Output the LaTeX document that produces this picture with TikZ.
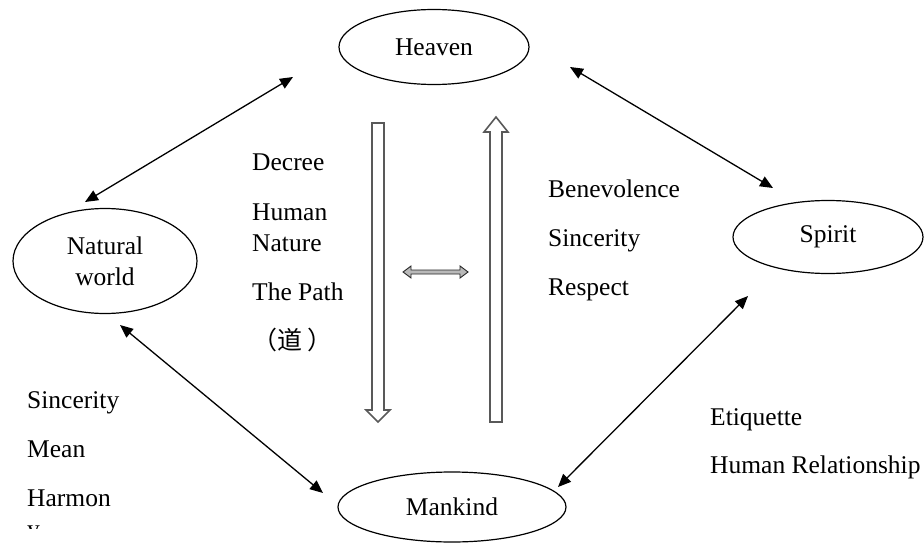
\documentclass[tikz,border=0pt]{standalone}
\usepackage{fontspec}
\setmainfont{Liberation Serif}
\newfontfamily\cjk{Noto Sans CJK SC}
\usetikzlibrary{arrows.meta,shapes.geometric}
\begin{document}
\begin{tikzpicture}[x=1pt,y=-1pt,
  ell/.style={draw, ellipse, line width=1.2pt, inner sep=0pt, font=\fontsize{25.5}{31}\selectfont, align=center},
  lbl/.style={anchor=base west, inner sep=0pt, font=\fontsize{25.5}{31}\selectfont, align=left},
  link/.style={line width=1.3pt, {Triangle[length=13pt,width=11pt]}-{Triangle[length=13pt,width=11pt]}},
  blk/.style={draw=gray!70!black, line width=1.6pt, fill=white, line join=miter},
  thin/.style={draw=gray!30!black, line width=0.9pt, fill=gray!55}]
\useasboundingbox (0,0) rectangle (924,543);
\clip (0,0) rectangle (924,543);

% ellipses
\node[ell, minimum width=190pt, minimum height=75pt] (heaven) at (434,47) {Heaven};
\node[ell, minimum width=190pt, minimum height=73pt] (spirit) at (828,237) {Spirit};
\node[ell, minimum width=184pt, minimum height=105pt] (natural) at (105,261) {Natural\\world};
\node[ell, minimum width=228pt, minimum height=70pt] (mankind) at (452,507) {Mankind};

% connector ends
\coordinate (hN) at (293,77);
\coordinate (nH) at (85,202);
\coordinate (hS) at (570,67);
\coordinate (sH) at (773,188);
\coordinate (nM) at (120,325);
\coordinate (mN) at (323,493);
\coordinate (sM) at (748,296);
\coordinate (mS) at (558,487);

\draw[link] (nH) -- (hN);
\draw[link] (hS) -- (sH);
\draw[link] (nM) -- (mN);
\draw[link] (sM) -- (mS);

% block arrows
\draw[blk] (372,123) -- (384,123) -- (384,410) -- (390,410) -- (378,422) -- (366,410) -- (372,410) -- cycle;
\draw[blk] (490,422) -- (502,422) -- (502,132) -- (508,132) -- (496,117) -- (484,132) -- (490,132) -- cycle;
\draw[thin] (403,272) -- (411,266) -- (411,270) -- (460,270) -- (460,266) -- (468,272) -- (460,278) -- (460,274) -- (411,274) -- (411,278) -- cycle;

% labels
\node[lbl] (decree) at (252,170) {Decree};
\node[lbl] (hn) at (252,251) {Human\\Nature};
\node[lbl] (path) at (252,300) {The Path};
\node[lbl, font=\fontsize{25}{30}\cjk] (dao) at (252,349) {（道 ）};

\node[lbl] (benev) at (548,197) {Benevolence};
\node[lbl] (since1) at (548,246) {Sincerity};
\node[lbl] (resp) at (548,295) {Respect};

\node[lbl] (since2) at (27,408) {Sincerity};
\node[lbl] (mean) at (27,457) {Mean};
\node[lbl] (harm) at (27,506) {Harmon};
\begin{scope}
\clip (0,480) rectangle (200,528);
\node[lbl] (harmy) at (27,537) {y};
\end{scope}

\node[lbl] (etiq) at (710,425) {Etiquette};
\node[lbl] (hrel) at (710,473) {Human Relationship};
\end{tikzpicture}
\end{document}
